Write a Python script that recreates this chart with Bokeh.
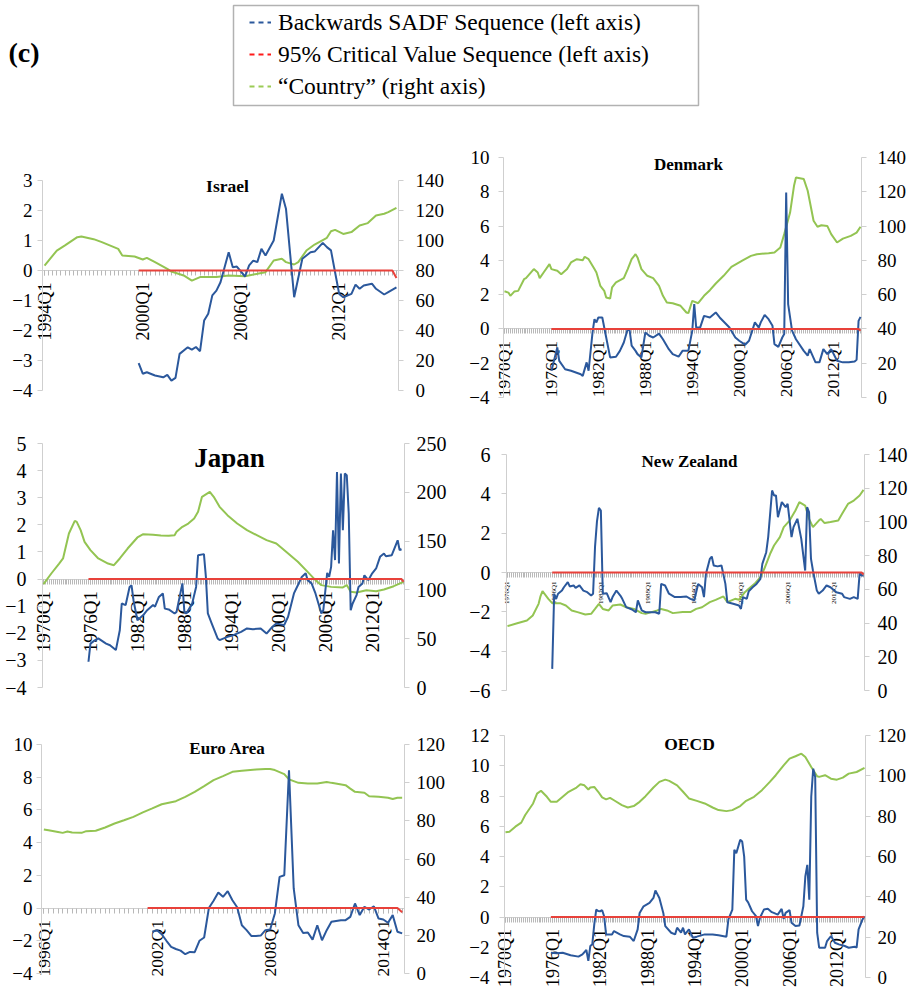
import math
from bokeh.plotting import figure
from bokeh.models import (Range1d, LinearAxis, FixedTicker, Label, Legend,
                          LegendItem, BoxAnnotation)
from bokeh.embed import file_html
from bokeh.resources import INLINE

# ------------------------------------------------------------------ data
LEGEND_LABELS = ["Backwards SADF Sequence (left axis)",
                 "95% Critical Value Sequence (left axis)",
                 "\u201cCountry\u201d (right axis)"]
PANEL_LABEL = "(c)"

# ---- Israel
ISR_TICKS = ["1994Q1", "2000Q1", "2006Q1", "2012Q1"]
ISR_GREEN = [("1994Q1", 83.3), ("1994Q4", 93.3), ("1995Q2", 96.7), ("1996Q1", 102.2), ("1996Q2", 102.7),
             ("1997Q1", 100.9), ("1997Q3", 98.9), ("1998Q3", 94.4), ("1998Q4", 90.0), ("1999Q3", 89.3),
             ("2000Q1", 87.3), ("2000Q2", 88.4), ("2000Q4", 85.6), ("2001Q3", 81.1), ("2001Q4", 79.3),
             ("2002Q3", 76.7), ("2003Q1", 73.3), ("2003Q3", 75.6), ("2004Q3", 75.6), ("2005Q2", 76.7),
             ("2006Q2", 76.2), ("2007Q1", 77.8), ("2007Q3", 78.9), ("2008Q1", 86.7), ("2008Q3", 87.8),
             ("2008Q4", 85.6), ("2009Q2", 84.0), ("2009Q3", 85.6), ("2010Q1", 93.3), ("2010Q3", 97.3),
             ("2011Q2", 101.8), ("2011Q3", 106.2), ("2011Q4", 107.1), ("2012Q2", 104.4), ("2012Q4", 105.6),
             ("2013Q2", 110.0), ("2013Q4", 111.6), ("2014Q2", 116.7), ("2014Q4", 117.8), ("2015Q1", 118.9),
             ("2015Q3", 121.8)]
ISR_BLUE = [("1999Q4", -3.09), ("2000Q1", -3.44), ("2000Q2", -3.39), ("2000Q4", -3.50), ("2001Q2", -3.56),
            ("2001Q3", -3.48), ("2001Q4", -3.67), ("2002Q1", -3.58), ("2002Q2", -2.78), ("2002Q4", -2.56),
            ("2003Q1", -2.64), ("2003Q2", -2.55), ("2003Q3", -2.69), ("2003Q4", -1.67), ("2004Q1", -1.44),
            ("2004Q2", -0.83), ("2004Q3", -0.67), ("2004Q4", -0.39), ("2005Q2", 0.61), ("2005Q3", 0.11),
            ("2005Q4", 0.13), ("2006Q2", -0.20), ("2006Q3", 0.17), ("2006Q4", 0.33), ("2007Q1", 0.28),
            ("2007Q2", 0.72), ("2007Q3", 0.50), ("2008Q1", 1.00), ("2008Q3", 2.56), ("2008Q4", 2.06),
            ("2009Q2", -0.89), ("2009Q4", 0.39), ("2010Q1", 0.50), ("2010Q2", 0.61), ("2010Q3", 0.63),
            ("2011Q1", 0.92), ("2011Q2", 0.78), ("2011Q3", 0.67), ("2011Q4", -0.06), ("2012Q1", -0.78),
            ("2012Q2", -0.89), ("2012Q4", -0.78), ("2013Q1", -0.47), ("2013Q2", -0.61), ("2013Q3", -0.50),
            ("2014Q1", -0.44), ("2014Q2", -0.61), ("2014Q4", -0.80), ("2015Q1", -0.72), ("2015Q3", -0.56)]
ISR_CV = [("1999Q4", 0.0), ("2015Q2", 0.0), ("2015Q3", -0.25)]

# ---- Denmark
DNK_TICKS = ["1970Q1", "1976Q1", "1982Q1", "1988Q1", "1994Q1", "2000Q1", "2006Q1", "2012Q1"]
DNK_GREEN = [("1970Q1", 62.0), ("1970Q3", 61.2), ("1970Q4", 59.3), ("1971Q2", 61.8), ("1971Q4", 62.2),
             ("1972Q3", 69.0), ("1972Q4", 69.6), ("1973Q4", 74.9), ("1974Q2", 72.9), ("1974Q3", 69.6),
             ("1975Q1", 72.9), ("1975Q4", 77.8), ("1976Q1", 74.9), ("1976Q4", 73.9), ("1977Q2", 71.9),
             ("1978Q1", 74.9), ("1978Q3", 78.8), ("1979Q2", 80.7), ("1980Q1", 80.1), ("1980Q2", 82.1),
             ("1980Q4", 80.7), ("1981Q3", 74.9), ("1981Q4", 72.9), ("1982Q2", 65.1), ("1982Q4", 62.2),
             ("1983Q1", 58.3), ("1983Q3", 57.7), ("1983Q4", 64.2), ("1984Q2", 67.1), ("1985Q2", 69.6),
             ("1985Q4", 74.9), ("1986Q2", 80.7), ("1986Q4", 83.6), ("1987Q1", 81.7), ("1987Q3", 74.9),
             ("1988Q2", 71.0), ("1989Q1", 69.6), ("1989Q4", 65.1), ("1990Q2", 59.3), ("1990Q4", 55.4),
             ("1991Q3", 55.0), ("1992Q3", 53.5), ("1993Q2", 49.6), ("1993Q3", 49.2), ("1994Q1", 56.4),
             ("1994Q4", 55.0), ("1995Q3", 59.3), ("1996Q2", 62.6), ("1997Q1", 66.5), ("1998Q1", 71.0),
             ("1999Q1", 76.2), ("2000Q3", 80.1), ("2001Q3", 82.6), ("2002Q2", 83.6), ("2003Q4", 84.2),
             ("2004Q3", 84.6), ("2005Q2", 87.5), ("2005Q4", 95.3), ("2006Q3", 107.9), ("2007Q1", 123.5),
             ("2007Q2", 128.3), ("2008Q2", 127.4), ("2008Q4", 120.6), ("2009Q3", 103.1), ("2010Q1", 99.6),
             ("2010Q3", 100.5), ("2011Q2", 100.1), ("2011Q4", 95.3), ("2012Q3", 90.4), ("2013Q2", 92.7),
             ("2014Q2", 94.3), ("2015Q1", 96.2), ("2015Q3", 99.6)]
DNK_BLUE = [("1976Q1", -2.44), ("1976Q4", -1.08), ("1977Q1", -1.86), ("1977Q4", -2.35), ("1978Q3", -2.44),
            ("1979Q4", -2.64), ("1980Q1", -2.74), ("1980Q3", -1.95), ("1980Q4", -2.44), ("1981Q2", -0.21),
            ("1981Q3", 0.57), ("1981Q4", 0.38), ("1982Q1", 0.67), ("1982Q3", 0.67), ("1983Q1", -0.50),
            ("1983Q3", -1.66), ("1984Q2", -1.62), ("1984Q4", -1.28), ("1985Q2", -0.79), ("1985Q4", 0.00),
            ("1986Q1", -0.10), ("1986Q2", -0.98), ("1986Q4", -1.28), ("1987Q1", -1.47), ("1987Q3", -1.66),
            ("1988Q1", -0.21), ("1988Q3", -0.40), ("1989Q1", -0.50), ("1989Q4", -0.27), ("1990Q2", -0.60),
            ("1991Q1", -1.18), ("1991Q3", -1.47), ("1992Q2", -1.62), ("1992Q4", -1.28), ("1993Q3", -1.28),
            ("1994Q1", -0.10), ("1994Q2", 1.45), ("1994Q3", 0.08), ("1995Q1", 0.08), ("1995Q3", 0.76),
            ("1996Q2", 0.67), ("1997Q1", 0.96), ("1997Q3", 0.67), ("1998Q2", 0.32), ("1998Q4", 0.08),
            ("1999Q3", -0.50), ("2000Q1", -0.69), ("2000Q4", -0.92), ("2001Q2", -0.69), ("2002Q1", 0.38),
            ("2002Q3", 0.08), ("2002Q4", 0.38), ("2003Q2", 0.82), ("2003Q4", 0.57), ("2004Q2", 0.18),
            ("2004Q3", -0.89), ("2005Q1", -1.05), ("2005Q3", -0.50), ("2005Q4", -0.30), ("2006Q1", 7.96),
            ("2006Q2", 1.45), ("2006Q4", -0.10), ("2007Q2", -0.60), ("2008Q2", -1.28), ("2008Q4", -1.56),
            ("2009Q1", -1.18), ("2009Q4", -1.95), ("2010Q2", -1.95), ("2010Q4", -1.18), ("2011Q2", -1.47),
            ("2011Q4", -1.18), ("2012Q3", -1.86), ("2013Q2", -1.95), ("2014Q1", -1.95), ("2014Q4", -1.90),
            ("2015Q1", -1.80), ("2015Q2", 0.47), ("2015Q3", 0.70)]
DNK_CV = [("1976Q1", 0.0), ("2015Q2", 0.0), ("2015Q3", -0.10)]

# ---- Japan
JPN_TICKS = ["1970Q1", "1976Q1", "1982Q1", "1988Q1", "1994Q1", "2000Q1", "2006Q1", "2012Q1"]
JPN_GREEN = [("1970Q1", 105.9), ("1971Q1", 116.8), ("1972Q1", 127.0), ("1972Q3", 132.2), ("1973Q2", 157.8),
             ("1974Q1", 170.8), ("1974Q2", 169.7), ("1974Q4", 161.2), ("1975Q2", 149.2), ("1976Q1", 140.7),
             ("1977Q1", 132.2), ("1978Q2", 127.0), ("1979Q1", 125.3), ("1979Q4", 132.2), ("1980Q4", 142.4),
             ("1982Q1", 153.7), ("1982Q4", 157.1), ("1984Q1", 156.4), ("1985Q1", 155.7), ("1986Q1", 155.4),
             ("1986Q4", 156.1), ("1987Q1", 159.5), ("1987Q4", 164.6), ("1988Q3", 168.0), ("1989Q2", 173.2),
             ("1989Q4", 180.0), ("1990Q2", 195.4), ("1991Q2", 200.5), ("1991Q4", 195.4), ("1992Q3", 185.1),
             ("1993Q3", 176.6), ("1994Q4", 168.0), ("1996Q1", 161.2), ("1997Q2", 156.1), ("1998Q3", 151.0),
             ("1999Q4", 147.5), ("2001Q1", 139.0), ("2002Q3", 128.8), ("2003Q4", 118.5), ("2004Q4", 110.0),
             ("2005Q3", 104.9), ("2006Q4", 103.1), ("2008Q2", 102.5), ("2008Q4", 104.9), ("2009Q2", 98.0),
             ("2010Q1", 97.3), ("2011Q2", 99.7), ("2012Q3", 98.7), ("2013Q3", 100.4), ("2014Q4", 103.8),
             ("2016Q1", 108.3)]
JPN_BLUE = [("1975Q4", -3.05), ("1976Q1", -2.38), ("1976Q3", -2.27), ("1977Q1", -2.19), ("1978Q1", -2.38),
            ("1978Q3", -2.44), ("1979Q2", -2.62), ("1979Q4", -1.89), ("1980Q1", -0.90), ("1980Q3", -0.96),
            ("1981Q1", -0.29), ("1981Q2", -0.23), ("1981Q3", -0.78), ("1982Q1", -1.52), ("1982Q4", -1.33),
            ("1983Q2", -1.15), ("1984Q1", -0.96), ("1984Q2", -1.02), ("1984Q4", -0.66), ("1985Q2", -0.53),
            ("1985Q3", -1.09), ("1986Q1", -1.12), ("1986Q4", -1.27), ("1987Q1", -1.21), ("1987Q4", -0.16),
            ("1988Q1", -1.21), ("1988Q2", -1.27), ("1989Q1", -0.90), ("1989Q3", -0.29), ("1989Q4", 0.88),
            ("1990Q3", 0.92), ("1990Q4", 0.08), ("1991Q1", -1.27), ("1991Q3", -1.64), ("1992Q2", -2.19),
            ("1992Q3", -2.25), ("1993Q3", -2.13), ("1994Q2", -2.07), ("1995Q2", -1.95), ("1996Q1", -1.82),
            ("1996Q4", -1.85), ("1997Q4", -1.82), ("1998Q3", -2.01), ("1999Q2", -1.76), ("1999Q4", -1.64),
            ("2000Q4", -1.70), ("2001Q2", -1.39), ("2002Q1", -0.53), ("2002Q3", -0.23), ("2003Q1", 0.08),
            ("2003Q3", 0.21), ("2003Q4", -0.04), ("2004Q2", -0.16), ("2004Q4", -0.53), ("2005Q2", -1.02),
            ("2005Q3", -1.27), ("2005Q4", -1.15), ("2006Q2", 0.23), ("2006Q3", 0.08), ("2006Q4", 0.45),
            ("2007Q1", 1.80), ("2007Q2", 0.70), ("2007Q3", 3.95), ("2007Q4", 0.57), ("2008Q1", 3.89),
            ("2008Q2", 1.80), ("2008Q3", 3.89), ("2008Q4", 3.83), ("2009Q1", 2.42), ("2009Q2", -1.15),
            ("2009Q3", -0.90), ("2010Q1", -0.59), ("2010Q2", -0.29), ("2010Q4", -0.16), ("2011Q1", 0.14),
            ("2011Q3", -0.04), ("2012Q1", 0.21), ("2012Q3", 0.39), ("2013Q1", 0.82), ("2013Q3", 0.94),
            ("2013Q4", 0.84), ("2014Q3", 0.88), ("2015Q2", 1.43), ("2015Q3", 1.07), ("2015Q4", 1.10)]
JPN_CV = [("1975Q4", 0.0), ("2015Q4", 0.0), ("2016Q1", -0.10)]

# ---- New Zealand
NZL_TICKS = ["1970Q1", "1976Q1", "1982Q1", "1988Q1", "1994Q1", "2000Q1", "2006Q1", "2012Q1"]
NZL_GREEN = [("1970Q1", 38.2), ("1971Q2", 39.9), ("1972Q3", 41.5), ("1973Q2", 44.5), ("1974Q1", 51.4),
             ("1974Q2", 56.0), ("1974Q3", 58.9), ("1975Q2", 54.4), ("1975Q4", 51.8), ("1976Q4", 51.8),
             ("1977Q3", 50.4), ("1978Q2", 47.5), ("1979Q1", 46.5), ("1980Q1", 45.1), ("1980Q4", 45.5),
             ("1981Q2", 48.4), ("1981Q4", 51.4), ("1982Q2", 48.4), ("1983Q1", 47.5), ("1983Q3", 50.4),
             ("1984Q3", 51.0), ("1985Q2", 49.4), ("1986Q2", 48.4), ("1987Q2", 45.9), ("1987Q4", 45.5),
             ("1988Q3", 46.5), ("1989Q2", 47.5), ("1989Q4", 48.4), ("1990Q3", 47.5), ("1991Q2", 45.9),
             ("1992Q3", 46.5), ("1993Q3", 46.5), ("1994Q2", 48.4), ("1995Q1", 49.4), ("1996Q1", 52.4),
             ("1996Q4", 53.8), ("1997Q4", 55.8), ("1998Q2", 52.4), ("1999Q2", 54.4), ("1999Q4", 53.8),
             ("2000Q3", 58.3), ("2001Q1", 60.3), ("2001Q4", 63.3), ("2002Q3", 67.2), ("2003Q1", 72.2),
             ("2003Q4", 81.1), ("2004Q2", 86.0), ("2005Q1", 91.0), ("2005Q3", 96.9), ("2006Q2", 100.8),
             ("2007Q1", 106.8), ("2007Q3", 111.7), ("2008Q2", 109.7), ("2008Q4", 101.8), ("2009Q2", 96.9),
             ("2010Q1", 100.8), ("2010Q2", 101.8), ("2010Q4", 99.3), ("2011Q3", 99.9), ("2012Q3", 100.8),
             ("2013Q1", 104.8), ("2013Q4", 110.7), ("2014Q3", 112.7), ("2015Q2", 115.7), ("2015Q4", 119.0)]
NZL_BLUE = [("1975Q4", -4.90), ("1976Q1", -1.08), ("1976Q2", -1.34), ("1976Q3", -1.08), ("1977Q1", -0.92),
            ("1977Q2", -0.75), ("1977Q4", -0.49), ("1978Q1", -0.71), ("1978Q3", -0.66), ("1978Q4", -0.78),
            ("1979Q2", -0.66), ("1979Q4", -0.92), ("1980Q2", -1.00), ("1980Q4", -1.17), ("1981Q1", -1.08),
            ("1981Q2", 1.30), ("1981Q3", 2.60), ("1981Q4", 3.29), ("1982Q1", 3.15), ("1982Q2", -1.08),
            ("1982Q4", -1.05), ("1983Q2", -1.51), ("1983Q3", -1.25), ("1984Q1", -0.92), ("1984Q3", -1.17),
            ("1984Q4", -1.34), ("1985Q2", -1.76), ("1986Q1", -1.88), ("1986Q3", -2.02), ("1986Q4", -1.42),
            ("1987Q2", -1.93), ("1987Q4", -2.02), ("1988Q2", -2.02), ("1989Q1", -2.02), ("1989Q3", -2.10),
            ("1989Q4", -0.58), ("1990Q2", -0.66), ("1990Q4", -1.08), ("1991Q3", -1.25), ("1992Q2", -1.25),
            ("1993Q1", -1.22), ("1993Q3", -1.34), ("1994Q1", -1.42), ("1994Q3", -0.58), ("1995Q1", -0.75),
            ("1995Q2", -1.25), ("1995Q3", -0.07), ("1996Q1", 0.69), ("1996Q2", 0.81), ("1996Q3", 0.36),
            ("1997Q1", 0.31), ("1997Q3", 0.36), ("1998Q1", -0.58), ("1998Q2", -1.51), ("1999Q1", -1.59),
            ("1999Q4", -1.68), ("2000Q1", -1.85), ("2000Q2", -1.25), ("2000Q4", -1.34), ("2001Q1", -0.95),
            ("2001Q3", -0.75), ("2002Q1", -0.58), ("2002Q3", -0.32), ("2002Q4", 0.44), ("2003Q2", 1.03),
            ("2003Q3", 1.80), ("2004Q1", 4.17), ("2004Q2", 3.92), ("2004Q3", 3.92), ("2004Q4", 2.81),
            ("2005Q2", 3.58), ("2005Q4", 3.32), ("2006Q1", 3.49), ("2006Q3", 1.80), ("2006Q4", 2.31),
            ("2007Q2", 2.73), ("2007Q4", 1.71), ("2008Q2", 0.10), ("2008Q3", 3.32), ("2008Q4", 3.07),
            ("2009Q1", 0.69), ("2009Q2", 0.10), ("2009Q4", -0.92), ("2010Q1", -1.08), ("2010Q3", -0.92),
            ("2011Q1", -0.66), ("2011Q3", -0.75), ("2012Q2", -1.00), ("2013Q1", -1.08), ("2013Q2", -1.25),
            ("2014Q1", -1.34), ("2014Q3", -1.25), ("2015Q1", -1.34), ("2015Q2", -0.03), ("2015Q3", -0.15),
            ("2015Q4", -0.15)]
NZL_CV = [("1975Q4", 0.0), ("2015Q3", 0.0), ("2015Q4", -0.10)]

# ---- Euro Area
EUR_TICKS = ["1996Q1", "2002Q1", "2008Q1", "2014Q1"]
EUR_GREEN = [("1996Q1", 75.5), ("1996Q2", 75.1), ("1996Q4", 74.2), ("1997Q1", 73.7), ("1997Q2", 74.4),
             ("1997Q3", 73.9), ("1998Q1", 73.7), ("1998Q2", 74.6), ("1998Q4", 74.8), ("1999Q2", 76.5),
             ("1999Q4", 78.6), ("2000Q2", 80.3), ("2000Q4", 82.1), ("2001Q2", 84.4), ("2001Q4", 86.5),
             ("2002Q2", 88.7), ("2003Q1", 90.3), ("2003Q3", 92.6), ("2004Q1", 95.2), ("2004Q3", 98.2),
             ("2005Q1", 101.3), ("2005Q3", 103.4), ("2006Q1", 105.7), ("2006Q3", 106.2), ("2007Q2", 106.9),
             ("2007Q4", 107.2), ("2008Q1", 107.2), ("2008Q2", 106.6), ("2008Q4", 104.5), ("2009Q1", 101.7),
             ("2009Q3", 99.9), ("2010Q1", 99.6), ("2010Q3", 99.6), ("2011Q1", 100.4), ("2011Q2", 99.9),
             ("2012Q1", 98.7), ("2012Q2", 96.9), ("2012Q3", 95.2), ("2013Q1", 94.7), ("2013Q2", 92.9),
             ("2013Q4", 92.6), ("2014Q2", 92.1), ("2014Q3", 91.4), ("2014Q4", 92.1), ("2015Q1", 92.1)]
EUR_BLUE = [("2001Q4", -1.45), ("2002Q1", -1.35), ("2002Q2", -1.60), ("2002Q3", -2.00), ("2002Q4", -2.37),
            ("2003Q1", -2.50), ("2003Q2", -2.60), ("2003Q3", -2.82), ("2003Q4", -2.68), ("2004Q1", -2.70),
            ("2004Q2", -2.00), ("2004Q3", -1.80), ("2004Q4", 0.00), ("2005Q1", 0.45), ("2005Q2", 0.95),
            ("2005Q3", 0.69), ("2005Q4", 1.03), ("2006Q1", 0.48), ("2006Q2", 0.05), ("2006Q3", -1.05),
            ("2006Q4", -1.35), ("2007Q1", -1.70), ("2007Q2", -1.70), ("2007Q3", -1.68), ("2007Q4", -1.35),
            ("2008Q1", -1.31), ("2008Q2", -0.33), ("2008Q3", 1.91), ("2008Q4", 2.01), ("2009Q1", 8.43),
            ("2009Q2", 1.20), ("2009Q3", -1.05), ("2009Q4", -1.52), ("2010Q1", -1.49), ("2010Q2", -1.93),
            ("2010Q3", -1.05), ("2010Q4", -1.97), ("2011Q1", -1.35), ("2011Q2", -0.84), ("2011Q4", -0.74),
            ("2012Q1", -0.74), ("2012Q2", -0.54), ("2012Q3", 0.28), ("2012Q4", -0.43), ("2013Q1", 0.08),
            ("2013Q2", -0.09), ("2013Q3", 0.11), ("2013Q4", -0.64), ("2014Q1", -0.70), ("2014Q2", -0.90),
            ("2014Q3", -0.43), ("2014Q4", -1.45), ("2015Q1", -1.55)]
EUR_CV = [("2001Q3", 0.0), ("2014Q4", 0.0), ("2015Q1", -0.25)]

# ---- OECD
OECD_TICKS = ["1970Q1", "1976Q1", "1982Q1", "1988Q1", "1994Q1", "2000Q1", "2006Q1", "2012Q1"]
OECD_GREEN = [("1970Q1", 72.0), ("1970Q3", 72.3), ("1971Q2", 74.8), ("1972Q1", 76.8), ("1972Q3", 80.6),
              ("1973Q3", 86.3), ("1974Q1", 91.2), ("1974Q3", 92.6), ("1975Q2", 89.6), ("1975Q4", 87.1),
              ("1976Q3", 87.1), ("1977Q2", 89.6), ("1978Q1", 92.1), ("1979Q1", 94.2), ("1979Q3", 95.8),
              ("1980Q1", 95.3), ("1980Q3", 93.2), ("1980Q4", 94.2), ("1981Q2", 94.5), ("1981Q4", 92.1),
              ("1982Q2", 89.3), ("1982Q4", 88.3), ("1983Q2", 89.1), ("1983Q4", 87.9), ("1984Q4", 85.5),
              ("1985Q3", 84.3), ("1986Q2", 85.0), ("1987Q1", 87.1), ("1987Q4", 89.9), ("1988Q4", 94.2),
              ("1989Q3", 97.0), ("1990Q2", 98.1), ("1990Q4", 97.5), ("1991Q4", 95.3), ("1992Q3", 92.1),
              ("1993Q2", 88.8), ("1994Q2", 87.6), ("1995Q2", 86.3), ("1996Q2", 84.3), ("1997Q1", 83.0),
              ("1998Q1", 82.5), ("1998Q4", 83.0), ("1999Q4", 85.0), ("2000Q3", 87.6), ("2001Q3", 89.6),
              ("2002Q3", 92.9), ("2003Q3", 97.0), ("2004Q2", 100.3), ("2005Q2", 105.2), ("2006Q1", 108.5),
              ("2006Q4", 109.7), ("2007Q3", 111.0), ("2008Q1", 109.3), ("2008Q4", 104.4), ("2009Q3", 99.8),
              ("2009Q4", 99.5), ("2010Q3", 100.3), ("2011Q2", 98.6), ("2012Q1", 98.1), ("2012Q4", 99.1),
              ("2013Q3", 101.1), ("2014Q3", 101.9), ("2015Q3", 103.9)]
OECD_BLUE = [("1975Q4", -2.36), ("1976Q3", -2.40), ("1977Q2", -2.36), ("1978Q2", -2.53), ("1979Q2", -2.62),
             ("1979Q4", -2.47), ("1980Q2", -2.18), ("1980Q3", -2.90), ("1980Q4", -1.92), ("1981Q1", -1.81),
             ("1981Q2", -0.50), ("1981Q3", 0.49), ("1981Q4", 0.40), ("1982Q1", 0.38), ("1982Q2", 0.45),
             ("1982Q3", 0.05), ("1982Q4", -1.15), ("1983Q3", -1.15), ("1983Q4", -0.93), ("1984Q3", -1.15),
             ("1985Q1", -1.26), ("1985Q4", -1.30), ("1986Q2", -1.59), ("1986Q4", -0.82), ("1987Q1", 0.27),
             ("1987Q3", 0.71), ("1988Q2", 0.93), ("1988Q4", 1.26), ("1989Q1", 1.76), ("1989Q3", 1.26),
             ("1990Q1", 0.27), ("1990Q2", -0.60), ("1991Q1", -1.04), ("1991Q3", -1.15), ("1991Q4", -0.71),
             ("1992Q2", -1.04), ("1992Q3", -0.71), ("1992Q4", -1.15), ("1993Q2", -0.82), ("1993Q4", -1.37),
             ("1994Q2", -1.30), ("1995Q2", -1.15), ("1996Q2", -1.15), ("1997Q1", -1.21), ("1998Q1", -1.30),
             ("1998Q2", -0.16), ("1998Q4", 0.49), ("1999Q1", 4.44), ("1999Q2", 4.22), ("1999Q4", 5.10),
             ("2000Q1", 4.99), ("2000Q2", 3.99), ("2000Q3", 1.15), ("2000Q4", 0.97), ("2001Q2", 0.38),
             ("2001Q4", 0.05), ("2002Q1", -0.60), ("2002Q2", -0.05), ("2002Q4", 0.49), ("2003Q2", 0.54),
             ("2003Q4", 0.32), ("2004Q1", 0.27), ("2004Q3", 0.16), ("2005Q1", 0.54), ("2005Q2", -0.12),
             ("2005Q3", 0.27), ("2006Q1", 0.45), ("2006Q2", -0.38), ("2006Q4", -0.60), ("2007Q2", -0.56),
             ("2007Q4", 0.71), ("2008Q1", 2.68), ("2008Q2", 3.45), ("2008Q3", 1.15), ("2008Q4", 7.95),
             ("2009Q1", 9.81), ("2009Q2", 9.26), ("2009Q3", -1.04), ("2009Q4", -2.03), ("2010Q3", -2.03),
             ("2010Q4", -1.59), ("2011Q2", -1.26), ("2011Q4", -1.70), ("2012Q2", -1.81), ("2013Q1", -1.92),
             ("2013Q3", -2.03), ("2014Q2", -1.96), ("2014Q3", -2.03), ("2014Q4", -0.82), ("2015Q2", -0.16),
             ("2015Q3", 0.05)]
OECD_CV = [("1975Q4", 0.0), ("2015Q3", 0.0)]

# ------------------------------------------------------------------ style / layout
SERIF = "Liberation Serif"
BLUE = "#2B589C"
RED = "#E8413A"
GREEN = "#93C452"
AXIS_GRAY = "#CFCFCF"
TICK_GRAY = "#B8B8B8"

W, H = 912, 988   # one canvas for the whole page; 1 px per unit in the default ranges

PANELS = [
    dict(key="isr", name="Israel", green=ISR_GREEN, blue=ISR_BLUE, cv=ISR_CV, ticks=ISR_TICKS,
         first="1994Q1", last="2015Q3", left=(-4, 3, 1), right=(0, 140, 20),
         frame=(42, 398, 180, 390), title_at=(227, 185), title_size=17.5,
         ytick_size=19, xtick_size=18, l_standoff=5, r_standoff=12),
    dict(key="dnk", name="Denmark", green=DNK_GREEN, blue=DNK_BLUE, cv=DNK_CV, ticks=DNK_TICKS,
         first="1970Q1", last="2015Q3", left=(-4, 10, 2), right=(0, 140, 20),
         frame=(503, 861, 157, 397), title_at=(688, 164), title_size=17,
         ytick_size=19, xtick_size=17.5, l_standoff=9, r_standoff=11),
    dict(key="jpn", name="Japan", green=JPN_GREEN, blue=JPN_BLUE, cv=JPN_CV, ticks=JPN_TICKS,
         first="1970Q1", last="2016Q1", left=(-4, 5, 1), right=(0, 250, 50),
         frame=(42, 404, 443, 687), title_at=(229, 457), title_size=27,
         ytick_size=20, xtick_size=19, l_standoff=11, r_standoff=7),
    dict(key="nzl", name="New Zealand", green=NZL_GREEN, blue=NZL_BLUE, cv=NZL_CV, ticks=NZL_TICKS,
         first="1970Q1", last="2015Q4", left=(-6, 6, 2), right=(0, 140, 20),
         frame=(506, 864, 454, 690), title_at=(689, 461), title_size=17,
         ytick_size=20, xtick_size=7, l_standoff=11, r_standoff=8),
    dict(key="eur", name="Euro Area", green=EUR_GREEN, blue=EUR_BLUE, cv=EUR_CV, ticks=EUR_TICKS,
         first="1996Q1", last="2015Q1", left=(-4, 10, 2), right=(0, 120, 20),
         frame=(41, 404, 744, 973), title_at=(227, 748), title_size=17,
         ytick_size=19, xtick_size=17.5, l_standoff=4, r_standoff=7),
    dict(key="oecd", name="OECD", green=OECD_GREEN, blue=OECD_BLUE, cv=OECD_CV, ticks=OECD_TICKS,
         first="1970Q1", last="2015Q3", left=(-4, 12, 2), right=(0, 120, 20),
         frame=(504, 865, 735, 977), title_at=(689, 743), title_size=17.5,
         ytick_size=19, xtick_size=18, l_standoff=10, r_standoff=7),
]


def qpos(q):
    return int(q[:4]) + (int(q[5]) - 1) / 4.0


def unzip(pairs):
    return [qpos(q) for q, _ in pairs], [v for _, v in pairs]


def pixel_range(v0, v1, p0, p1, total):
    """Range whose value v0 lands on pixel p0 and v1 on pixel p1 of a span `total` px long."""
    k = (v1 - v0) / (p1 - p0)
    start = v0 - p0 * k
    return Range1d(start, start + total * k)


def style_axis(ax, size, standoff, tick_color):
    ax.axis_line_color = AXIS_GRAY
    ax.axis_line_width = 1
    ax.major_tick_line_color = tick_color
    ax.major_tick_in = 0
    ax.major_tick_out = 5
    ax.major_label_text_font = SERIF
    ax.major_label_text_font_size = f"{size}px"
    ax.major_label_text_color = "black"
    ax.major_label_standoff = standoff


p = figure(width=W, height=H, min_border=0,
           x_range=Range1d(0, W), y_range=Range1d(0, H),
           x_axis_location=None, y_axis_location=None,
           output_backend="svg", toolbar_location=None, title=None)
p.outline_line_color = None
p.grid.visible = False
p.background_fill_color = "white"
p.border_fill_color = "white"

for c in PANELS:
    k = c["key"]
    fx0, fx1, fy0, fy1 = c["frame"]
    x0 = qpos(c["first"]) - 0.125
    x1 = qpos(c["last"]) + 0.125
    lo, hi, lstep = c["left"]
    rlo, rhi, rstep = c["right"]
    xn, yl, yr = k + "_x", k + "_l", k + "_r"
    p.extra_x_ranges[xn] = pixel_range(x0, x1, fx0, fx1, W)
    p.extra_y_ranges[yl] = pixel_range(lo, hi, H - fy1, H - fy0, H)
    p.extra_y_ranges[yr] = pixel_range(rlo, rhi, H - fy1, H - fy0, H)

    la = LinearAxis(x_range_name=xn, y_range_name=yl, fixed_location=x0, bounds=(lo, hi),
                    ticker=FixedTicker(ticks=list(range(lo, hi + 1, lstep))))
    style_axis(la, c["ytick_size"], c["l_standoff"], AXIS_GRAY)
    la.minor_tick_line_color = None
    p.add_layout(la, "left")

    ra = LinearAxis(x_range_name=xn, y_range_name=yr, fixed_location=x1, bounds=(rlo, rhi),
                    ticker=FixedTicker(ticks=list(range(rlo, rhi + 1, rstep))))
    style_axis(ra, c["ytick_size"], c["r_standoff"], AXIS_GRAY)
    ra.minor_tick_line_color = None
    p.add_layout(ra, "right")

    # quarterly category axis crossing the left axis at zero
    tick_pos = [qpos(t) for t in c["ticks"]]
    n_q = int(round((x1 - x0) * 4))
    quarters = [x0 + 0.125 + 0.25 * i for i in range(n_q)]
    xa = LinearAxis(x_range_name=xn, y_range_name=yl, fixed_location=0, bounds=(x0, x1),
                    ticker=FixedTicker(ticks=tick_pos, minor_ticks=quarters))
    style_axis(xa, c["xtick_size"], 7 if c["xtick_size"] > 10 else 4, TICK_GRAY)
    xa.minor_tick_line_color = TICK_GRAY
    xa.minor_tick_in = 0
    xa.minor_tick_out = 5
    xa.major_label_overrides = {pos: lab for pos, lab in zip(tick_pos, c["ticks"])}
    xa.major_label_orientation = math.pi / 2
    p.add_layout(xa, "below")

    gx, gy = unzip(c["green"])
    bx, by = unzip(c["blue"])
    rx, ry = unzip(c["cv"])
    p.line(gx, gy, x_range_name=xn, y_range_name=yr, line_color=GREEN, line_width=2,
           level="annotation")
    p.line(bx, by, x_range_name=xn, y_range_name=yl, line_color=BLUE, line_width=2,
           level="annotation")
    p.line(rx, ry, x_range_name=xn, y_range_name=yl, line_color=RED, line_width=2,
           level="annotation")

    tx, ty = c["title_at"]
    p.add_layout(Label(x=tx, y=H - ty, text=c["name"], text_align="center",
                       text_baseline="middle", text_font=SERIF, text_font_style="bold",
                       text_font_size=f"{c['title_size']}px", text_color="black"))

# ------------------------------------------------------------------ header: (c) + legend box
p.add_layout(Label(x=8, y=H - 36, text=PANEL_LABEL, text_baseline="top",
                   text_font=SERIF, text_font_style="bold", text_font_size="28px",
                   text_color="black"))
p.add_layout(BoxAnnotation(left=233, right=698, bottom=H - 105, top=H - 5,
                           fill_alpha=0, line_color="black", line_width=1.5))

nan = float("nan")
leg_colors = [BLUE, "#FF1A1A", "#9BCB55"]
items = []
for lab, col in zip(LEGEND_LABELS, leg_colors):
    r = p.line(x=[nan, nan], y=[nan, nan], line_color=col, line_width=2, line_dash="5 4")
    items.append(LegendItem(label=lab, renderers=[r]))
legend = Legend(items=items, location=(249, H - 101), orientation="vertical",
                padding=0, margin=0, spacing=2, label_height=30, glyph_height=30,
                glyph_width=22, label_standoff=7, label_text_font=SERIF,
                label_text_font_size="23.5px", label_text_color="black",
                border_line_color=None, background_fill_alpha=0)
p.add_layout(legend)

open("out.html", "w").write(file_html(p, INLINE, title="Backwards SADF sequences"))
